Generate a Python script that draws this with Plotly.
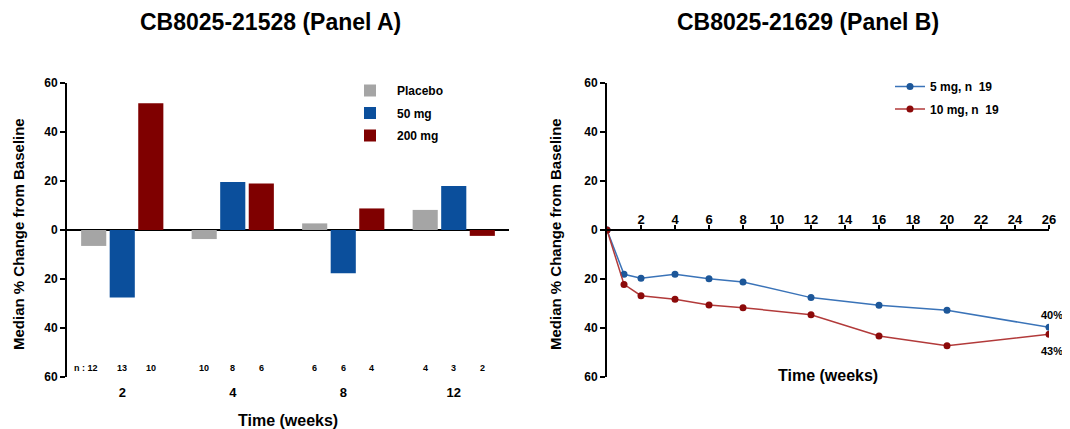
import plotly.graph_objects as go

# ---------------- data ----------------
weeks_a = ["2", "4", "8", "12"]
placebo = [-6.5, -3.7, 2.7, 8.2]
mg50 = [-27.5, 19.6, -17.7, 18.0]
mg200 = [51.7, 19.0, 8.8, -2.4]
n_placebo = ["n : 12", "10", "6", "4"]
n_50 = ["13", "8", "6", "3"]
n_200 = ["10", "6", "4", "2"]

weeks_b = [0, 1, 2, 4, 6, 8, 12, 16, 20, 26]
mg5 = [0, -18.1, -19.7, -18.1, -19.9, -21.2, -27.6, -30.7, -32.8, -39.7]
mg10 = [0, -22.2, -26.8, -28.3, -30.6, -31.7, -34.6, -43.3, -47.2, -42.6]
b_ticks = [2, 4, 6, 8, 10, 12, 14, 16, 18, 20, 22, 24, 26]
end_labels = ["40%", "43%"]

y_tickvals = [-60, -40, -20, 0, 20, 40, 60]
y_ticktext = ["60", "40", "20", "0", "20", "40", "60"]

# ---------------- style ----------------
FONT = "Liberation Sans, Arial, sans-serif"
OFF = 8                      # page body margin
W, H = 1070 - OFF, 429 - OFF
GRAY, BLUE, RED = "#a5a5a5", "#0b4f9c", "#7f0000"
BLUE_L, BLUE_M = "#3a73b8", "#1d5799"
RED_L, RED_M = "#b23a3a", "#8c0a0a"


def px(x):
    return (x - OFF) / W


def py(y):
    return 1 - (y - OFF) / H


yd = [py(377), py(83)]
xa_dom = [px(67), px(509)]
xb_dom = [px(607), px(1049)]
BARGAP, GROUPGAP = 0.225, 0.12
slot = (1 - BARGAP) / 3

idx = list(range(len(weeks_a)))
fig = go.Figure()
for name, vals, col in [("Placebo", placebo, GRAY), ("50 mg", mg50, BLUE), ("200 mg", mg200, RED)]:
    fig.add_trace(go.Bar(x=idx, y=vals, name=name, marker_color=col, marker_line_width=0,
                         xaxis="x", yaxis="y", legend="legend", legendgroup=name))

for name, vals, lc, mc in [("5 mg, n  19", mg5, BLUE_L, BLUE_M), ("10 mg, n  19", mg10, RED_L, RED_M)]:
    fig.add_trace(go.Scatter(x=weeks_b, y=vals, name=name, mode="lines+markers",
                             line=dict(color=lc, width=1.5), marker=dict(color=mc, size=7),
                             xaxis="x2", yaxis="y2", legend="legend2", legendgroup=name))

tickfont = dict(family=FONT, size=12, color="black", weight="bold")
yax = dict(range=[-60, 60], tickvals=y_tickvals, ticktext=y_ticktext, showline=True,
           linecolor="black", linewidth=2, ticks="outside", ticklen=5, tickwidth=2,
           tickcolor="black", showgrid=False, zeroline=True, zerolinecolor="black",
           zerolinewidth=1.5, tickfont=tickfont, domain=yd, automargin=False)

fig.update_layout(
    width=W, height=H, margin=dict(l=0, r=0, t=0, b=0),
    plot_bgcolor="white", paper_bgcolor="white",
    barmode="group", bargap=BARGAP, bargroupgap=GROUPGAP,
    xaxis=dict(domain=xa_dom, range=[-0.5, len(weeks_a) - 0.5], tickvals=idx, ticktext=weeks_a,
               showline=False, showgrid=False, zeroline=False, ticks="", tickfont=dict(tickfont, size=13),
               anchor="y", ticklabelstandoff=6, automargin=False),
    yaxis=dict(yax, anchor="x"),
    xaxis2=dict(domain=xb_dom, range=[0, 26], tickvals=b_ticks, showline=True, linecolor="black",
                linewidth=2, ticks="outside", ticklen=4, tickwidth=2, tickcolor="black",
                showgrid=False, zeroline=False, tickfont=dict(tickfont, size=13),
                anchor="free", position=(yd[0] + yd[1]) / 2, side="top", automargin=False,
                ticklabelstandoff=-4),
    yaxis2=dict(yax, anchor="x2", zeroline=False),
    legend=dict(x=px(343), y=py(76), xanchor="left", yanchor="top", bgcolor="rgba(0,0,0,0)",
                font=dict(family=FONT, size=12, color="black", weight="bold"),
                tracegroupgap=3.5, traceorder="grouped", itemwidth=44),
    legend2=dict(x=px(890), y=py(72), xanchor="left", yanchor="top", bgcolor="rgba(0,0,0,0)",
                 font=dict(family=FONT, size=12, color="black", weight="bold"),
                 tracegroupgap=3.5, traceorder="grouped"),
    showlegend=True,
)

ann = []
# titles
for t, xc in [("CB8025-21528 (Panel A)", 270), ("CB8025-21629 (Panel B)", 808)]:
    ann.append(dict(text=t, x=px(xc), y=py(22), xref="paper", yref="paper", xanchor="center",
                    yanchor="middle", showarrow=False,
                    font=dict(family=FONT, size=23, color="black", weight="bold")))
# y titles
for xc in [18, 555]:
    ann.append(dict(text="Median % Change from Baseline", x=px(xc), y=py(234), xref="paper", yref="paper",
                    textangle=-90, xanchor="center", yanchor="middle", showarrow=False,
                    font=dict(family=FONT, size=15, color="black", weight="bold")))
# x titles
for xc, yc in [(288, 420), (828, 375)]:
    ann.append(dict(text="Time (weeks)", x=px(xc), y=py(yc), xref="paper", yref="paper",
                    xanchor="center", yanchor="middle", showarrow=False,
                    font=dict(family=FONT, size=16, color="black", weight="bold")))
# n counts
for k, labels in enumerate([n_placebo, n_50, n_200]):
    for i, t in enumerate(labels):
        ann.append(dict(text=t, x=i + (k - 1) * slot, y=-56.3, xref="x", yref="y", showarrow=False,
                        xanchor="right" if t.startswith("n") else "center",
                        xshift=6 if t.startswith("n") else 0,
                        font=dict(family=FONT, size=9, color="black", weight="bold")))
# end labels panel B
ann.append(dict(text=end_labels[0], x=weeks_b[-1], y=mg5[-1], xref="x2", yref="y2", showarrow=False,
                xshift=3, yshift=12, font=dict(family=FONT, size=11, color="black", weight="bold")))
ann.append(dict(text=end_labels[1], x=weeks_b[-1], y=mg10[-1], xref="x2", yref="y2", showarrow=False,
                xshift=3, yshift=-17, font=dict(family=FONT, size=11, color="black", weight="bold")))
fig.update_layout(annotations=ann)

fig.write_html("out.html")
